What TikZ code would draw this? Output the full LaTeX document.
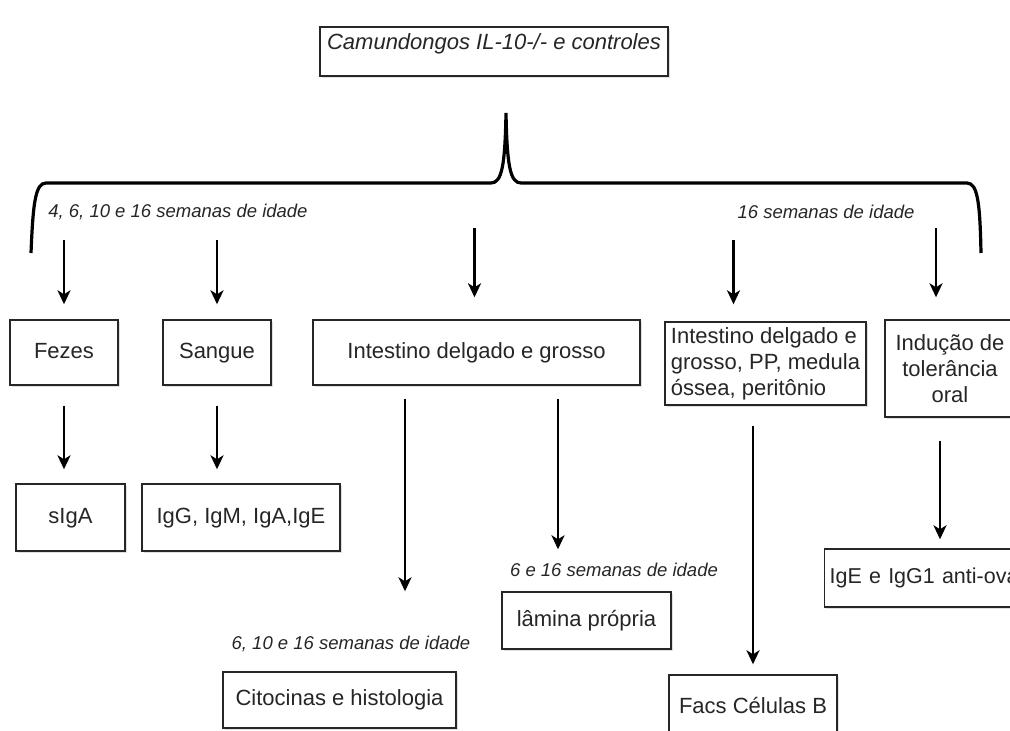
\documentclass[tikz,border=0pt]{standalone}
\usepackage{fontspec}
\setmainfont{Liberation Sans}
\usetikzlibrary{arrows.meta, shadows}
\tikzset{caixa/.style = {draw=black!85, line width=1.4pt, fill=white, inner sep=0pt, text=black!85,
    font=\fontsize{22}{26}\selectfont, drop shadow={shadow xshift=1.5pt, shadow yshift=-1.5pt, opacity=0.25}}}
\tikzset{linha/.style = {text height=16pt, text depth=4.5pt}}
\tikzset{idade/.style = {font=\fontsize{18.5}{22}\selectfont\itshape, text=black!85}}
\tikzset{seta/.style = {-{Stealth[length=14pt, width=13pt, inset=4pt]}, line width=2.6pt}}
\begin{document}
\begin{tikzpicture}[x=1pt, y=-1pt]
    \useasboundingbox (0,0) rectangle (1010,731);
    \clip (0,0) rectangle (1010,731);

    \node[caixa, anchor=base, minimum width=348pt, text depth=21pt, inner ysep=6pt] (camund) at (494,49) {\itshape Camundongos IL-10-/- e controles};

    % chave
    \coordinate (chave) at (506,183);
    \draw[line width=3.2pt] (31,253) .. controls (33,205) and (35,183) .. (46,183) -- (491,183)
        .. controls (502,183) and (505,165) .. (506,113) .. controls (507,165) and (510,183) .. (521,183)
        -- (967,183) .. controls (978,183) and (980,205) .. (981,253);

    \node[idade] (idade1) at (178,212) {4, 6, 10 e 16 semanas de idade};
    \node[idade] (idade2) at (826,212) {16 semanas de idade};

    \node[caixa, linha, minimum width=108pt, minimum height=65pt] (fezes) at (64,352.5) {Fezes};
    \node[caixa, linha, minimum width=108pt, minimum height=65pt] (sangue) at (217,352.5) {Sangue};
    \node[caixa, linha, minimum width=327pt, minimum height=65pt] (intestino) at (476.5,352.5) {Intestino delgado e grosso};
    \node[caixa, minimum width=201pt, minimum height=83pt, align=left] (orgaos) at (765.5,363.5) {Intestino delgado e\\grosso, PP, medula\\óssea, peritônio};
    \node[caixa, minimum width=130pt, minimum height=97pt, align=center] (inducao) at (950,368.5) {Indução de\\tolerância\\oral};

    \node[caixa, linha, minimum width=109pt, minimum height=67pt] (siga) at (70.5,517.5) {sIgA};
    \node[caixa, linha, minimum width=198pt, minimum height=67pt] (igs) at (241,517.5) {IgG, IgM, IgA,IgE};
    \node[caixa, linha, anchor=west, text width=200pt, inner xsep=5pt, minimum height=58pt,
          font=\fontsize{21.5}{26}\selectfont] (ova) at (824,578) {IgE e IgG1 anti-ova};
    \node[idade] (idade3) at (614,570) {6 e 16 semanas de idade};
    \node[caixa, linha, minimum width=169pt, minimum height=57pt] (lamina) at (586.5,620.5) {lâmina própria};
    \node[idade] (idade4) at (351,644) {6, 10 e 16 semanas de idade};
    \node[caixa, linha, minimum width=233pt, minimum height=56pt] (citocinas) at (339.5,700) {Citocinas e histologia};
    \node[caixa, linha, minimum width=168pt, minimum height=65pt] (facs) at (753,707.5) {Facs Células B};

    % setas da chave
    \path ([xshift=-2pt]intestino.north) coordinate (t1)
          ([xshift=-32pt]orgaos.north) coordinate (t2)
          ([xshift=-14pt]inducao.north) coordinate (t3);
    \draw[seta, shorten <=57pt, shorten >=15pt] (chave -| fezes) -- (fezes.north);
    \draw[seta, shorten <=57pt, shorten >=15pt] (chave -| sangue) -- (sangue.north);
    \draw[seta, shorten <=45pt, shorten >=22pt] (chave -| t1) -- (t1);
    \draw[seta, shorten <=57pt, shorten >=17pt] (chave -| t2) -- (t2);
    \draw[seta, shorten <=45pt, shorten >=22pt] (chave -| t3) -- (t3);

    % setas de baixo
    \path ([xshift=-71.5pt]intestino.south) coordinate (b1)
          ([xshift=81.5pt]intestino.south) coordinate (b2)
          ([xshift=-10pt]inducao.south) coordinate (b3);
    \draw[seta, shorten <=20pt, shorten >=14pt] (fezes.south) -- (fezes.south |- siga.north);
    \draw[seta, shorten <=20pt, shorten >=14pt] (sangue.south) -- (sangue.south |- igs.north);
    \draw[seta, shorten <=13pt, shorten >=80pt] (b1) -- (b1 |- citocinas.north);
    \draw[seta, shorten <=13pt, shorten >=42pt] (b2) -- (b2 |- lamina.north);
    \draw[seta, shorten <=20pt, shorten >=10pt] (facs.north |- orgaos.south) -- (facs.north);
    \draw[seta, shorten <=23pt, shorten >=9pt] (b3) -- (b3 |- ova.north);
\end{tikzpicture}
\end{document}
